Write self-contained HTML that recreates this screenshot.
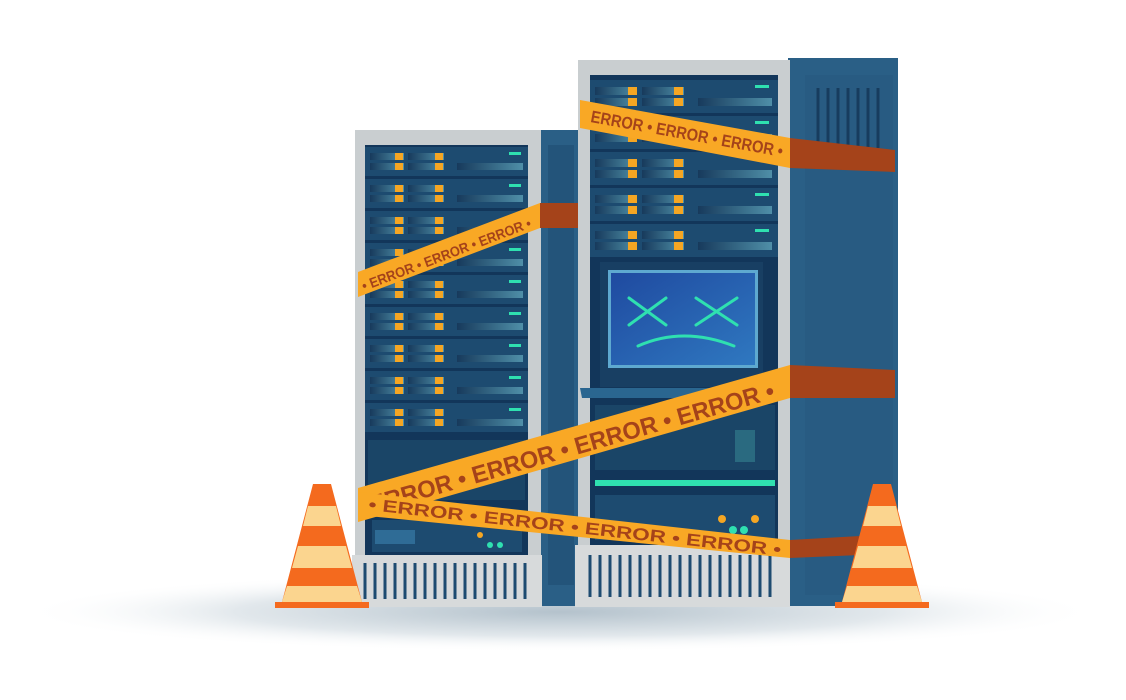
<!DOCTYPE html>
<html><head><style>html,body{margin:0;padding:0;background:#fff}svg{display:block}</style></head><body>
<svg width="1126" height="700" viewBox="0 0 1126 700" xmlns="http://www.w3.org/2000/svg" font-family="Liberation Sans, sans-serif">
<defs>
<radialGradient id="sh" cx="0.5" cy="0.5" r="0.5"><stop offset="0" stop-color="#b4c2cc"/><stop offset="0.6" stop-color="#e2e8ec"/><stop offset="1" stop-color="#fff" stop-opacity="0"/></radialGradient>
<linearGradient id="bar" x1="0" x2="1"><stop offset="0" stop-color="#173a5c"/><stop offset="1" stop-color="#4f8fa8"/></linearGradient>
<linearGradient id="scr" x1="0" y1="0" x2="1" y2="1"><stop offset="0" stop-color="#1f4aa0"/><stop offset="1" stop-color="#2f78c0"/></linearGradient>
<g id="rowL">
<rect x="0" y="0" width="163" height="29" fill="#1d4b70"/>
<rect x="5" y="6" width="34" height="7" fill="url(#bar)"/><rect x="5" y="16" width="34" height="7" fill="url(#bar)"/>
<rect x="30" y="6" width="8" height="7" fill="#f5a623"/><rect x="30" y="16" width="8" height="7" fill="#f5a623"/>
<rect x="43" y="6" width="36" height="7" fill="url(#bar)"/><rect x="43" y="16" width="36" height="7" fill="url(#bar)"/>
<rect x="70" y="6" width="8" height="7" fill="#f5a623"/><rect x="70" y="16" width="8" height="7" fill="#f5a623"/>
<rect x="92" y="16" width="66" height="7" fill="url(#bar)"/>
<rect x="144" y="5" width="12" height="3" fill="#2fe0b0"/>
</g>
<g id="rowR">
<rect x="0" y="0" width="188" height="33" fill="#1d4b70"/>
<rect x="5" y="7" width="42" height="8" fill="url(#bar)"/><rect x="5" y="18" width="42" height="8" fill="url(#bar)"/>
<rect x="38" y="7" width="9" height="8" fill="#f5a623"/><rect x="38" y="18" width="9" height="8" fill="#f5a623"/>
<rect x="52" y="7" width="42" height="8" fill="url(#bar)"/><rect x="52" y="18" width="42" height="8" fill="url(#bar)"/>
<rect x="84" y="7" width="9" height="8" fill="#f5a623"/><rect x="84" y="18" width="9" height="8" fill="#f5a623"/>
<rect x="108" y="18" width="74" height="8" fill="url(#bar)"/>
<rect x="165" y="5" width="14" height="3" fill="#2fe0b0"/>
</g>
<g id="cone">
<polygon points="-9,0 9,0 40,118 -40,118" fill="#f46a1e"/>
<polygon points="-14,22 14,22 19,42 -19,42" fill="#fbd58f"/>
<polygon points="-24,62 24,62 30,84 -30,84" fill="#fbd58f"/>
<polygon points="-35,102 35,102 40,118 -40,118" fill="#fbd58f"/>
<rect x="-47" y="118" width="94" height="6" fill="#f46a1e"/>
</g>
</defs>
<ellipse cx="560" cy="612" rx="540" ry="40" fill="url(#sh)"/>

<!-- left rack -->
<rect x="538" y="130" width="42" height="476" fill="#2a5f86"/>
<rect x="548" y="145" width="26" height="440" fill="#23547a"/>
<rect x="355" y="130" width="186" height="430" fill="#c9ced0"/>
<rect x="365" y="145" width="163" height="410" fill="#12365a"/>
<use href="#rowL" x="365" y="147"/><use href="#rowL" x="365" y="179"/><use href="#rowL" x="365" y="211"/><use href="#rowL" x="365" y="243"/><use href="#rowL" x="365" y="275"/><use href="#rowL" x="365" y="307"/><use href="#rowL" x="365" y="339"/><use href="#rowL" x="365" y="371"/><use href="#rowL" x="365" y="403"/>
<rect x="368" y="440" width="157" height="60" fill="#1a4567"/>
<rect x="372" y="520" width="150" height="32" fill="#1d4b70"/>
<rect x="375" y="530" width="40" height="14" fill="#2f6c96"/>
<rect x="352" y="555" width="190" height="52" fill="#d7dadb"/>
<g stroke="#1d4b70" stroke-width="3">
<path d="M365 563v36M375 563v36M385 563v36M395 563v36M405 563v36M415 563v36M425 563v36M435 563v36M445 563v36M455 563v36M465 563v36M475 563v36M485 563v36M495 563v36M505 563v36M515 563v36M525 563v36"/></g>

<!-- right rack -->
<rect x="788" y="58" width="110" height="548" fill="#2a5f86"/>
<rect x="805" y="75" width="88" height="520" fill="#285b82"/>
<g stroke="#173c5e" stroke-width="3"><path d="M818 88v60M828 88v60M838 88v60M848 88v60M858 88v60M868 88v60M878 88v60"/></g>
<rect x="578" y="60" width="212" height="490" fill="#c9ced0"/>
<rect x="590" y="75" width="188" height="470" fill="#12365a"/>
<use href="#rowR" x="590" y="80"/><use href="#rowR" x="590" y="116"/><use href="#rowR" x="590" y="152"/><use href="#rowR" x="590" y="188"/><use href="#rowR" x="590" y="224"/>
<rect x="600" y="262" width="163" height="125" fill="#183f63"/>
<rect x="608" y="270" width="150" height="98" fill="#5ea9d0"/>
<rect x="611" y="273" width="144" height="92" fill="url(#scr)"/>
<g stroke="#2fe0b0" stroke-width="3" fill="none" stroke-linecap="round">
<path d="M629 298l37 27M666 298l-37 27M696 298l41 27M737 298l-41 27M638 346q45-20 96 0"/></g>
<polygon points="580,388 780,388 778,398 582,398" fill="#2a6690"/>
<rect x="595" y="405" width="180" height="65" fill="#1a4567"/>
<rect x="735" y="430" width="20" height="32" fill="#2a6a80"/>
<rect x="595" y="480" width="180" height="6" fill="#2fe0b0"/>
<rect x="595" y="495" width="180" height="45" fill="#1d4b70"/>
<rect x="575" y="545" width="215" height="62" fill="#d7dadb"/>
<g stroke="#1d4b70" stroke-width="3">
<path d="M590 555v42M600 555v42M610 555v42M620 555v42M630 555v42M640 555v42M650 555v42M660 555v42M670 555v42M680 555v42M690 555v42M700 555v42M710 555v42M720 555v42M730 555v42M740 555v42M750 555v42M760 555v42M770 555v42"/></g>
<g fill="#f5a623"><circle cx="722" cy="519" r="4"/><circle cx="755" cy="519" r="4"/><circle cx="480" cy="535" r="3"/></g>
<g fill="#2fe0b0"><circle cx="733" cy="530" r="4"/><circle cx="744" cy="530" r="4"/><circle cx="490" cy="545" r="3"/><circle cx="500" cy="545" r="3"/></g>

<!-- tapes -->
<polygon points="790,138 895,150 895,172 790,168" fill="#a5431a"/>
<polygon points="580,100 790,138 790,168 580,128" fill="#f9a825"/>
<text transform="translate(590,122) rotate(10.3)" font-size="17" font-weight="bold" fill="#a5431a" textLength="195" lengthAdjust="spacingAndGlyphs">ERROR • ERROR • ERROR •</text>
<polygon points="540,203 578,203 578,228 540,228" fill="#a5431a"/>
<polygon points="358,272 540,203 540,228 358,297" fill="#f9a825"/>
<text transform="translate(364,291) rotate(-20.8)" font-size="14" font-weight="bold" fill="#a5431a" textLength="180" lengthAdjust="spacingAndGlyphs">• ERROR • ERROR • ERROR •</text>
<polygon points="790,365 895,370 895,398 790,398" fill="#a5431a"/>
<polygon points="358,488 790,365 790,398 358,522" fill="#f9a825"/>
<text transform="translate(372,513) rotate(-15.9)" font-size="24" font-weight="bold" fill="#a5431a" textLength="420" lengthAdjust="spacingAndGlyphs">ERROR • ERROR • ERROR • ERROR •</text>
<polygon points="790,540 860,536 860,555 790,558" fill="#a5431a"/>
<polygon points="358,492 790,540 790,558 358,515" fill="#f9a825"/>
<text transform="translate(368,510) rotate(6.3)" font-size="17" font-weight="bold" fill="#a5431a" textLength="415" lengthAdjust="spacingAndGlyphs">• ERROR • ERROR • ERROR • ERROR •</text>

<use href="#cone" x="322" y="484"/>
<use href="#cone" x="882" y="484"/>
</svg>
</body></html>
